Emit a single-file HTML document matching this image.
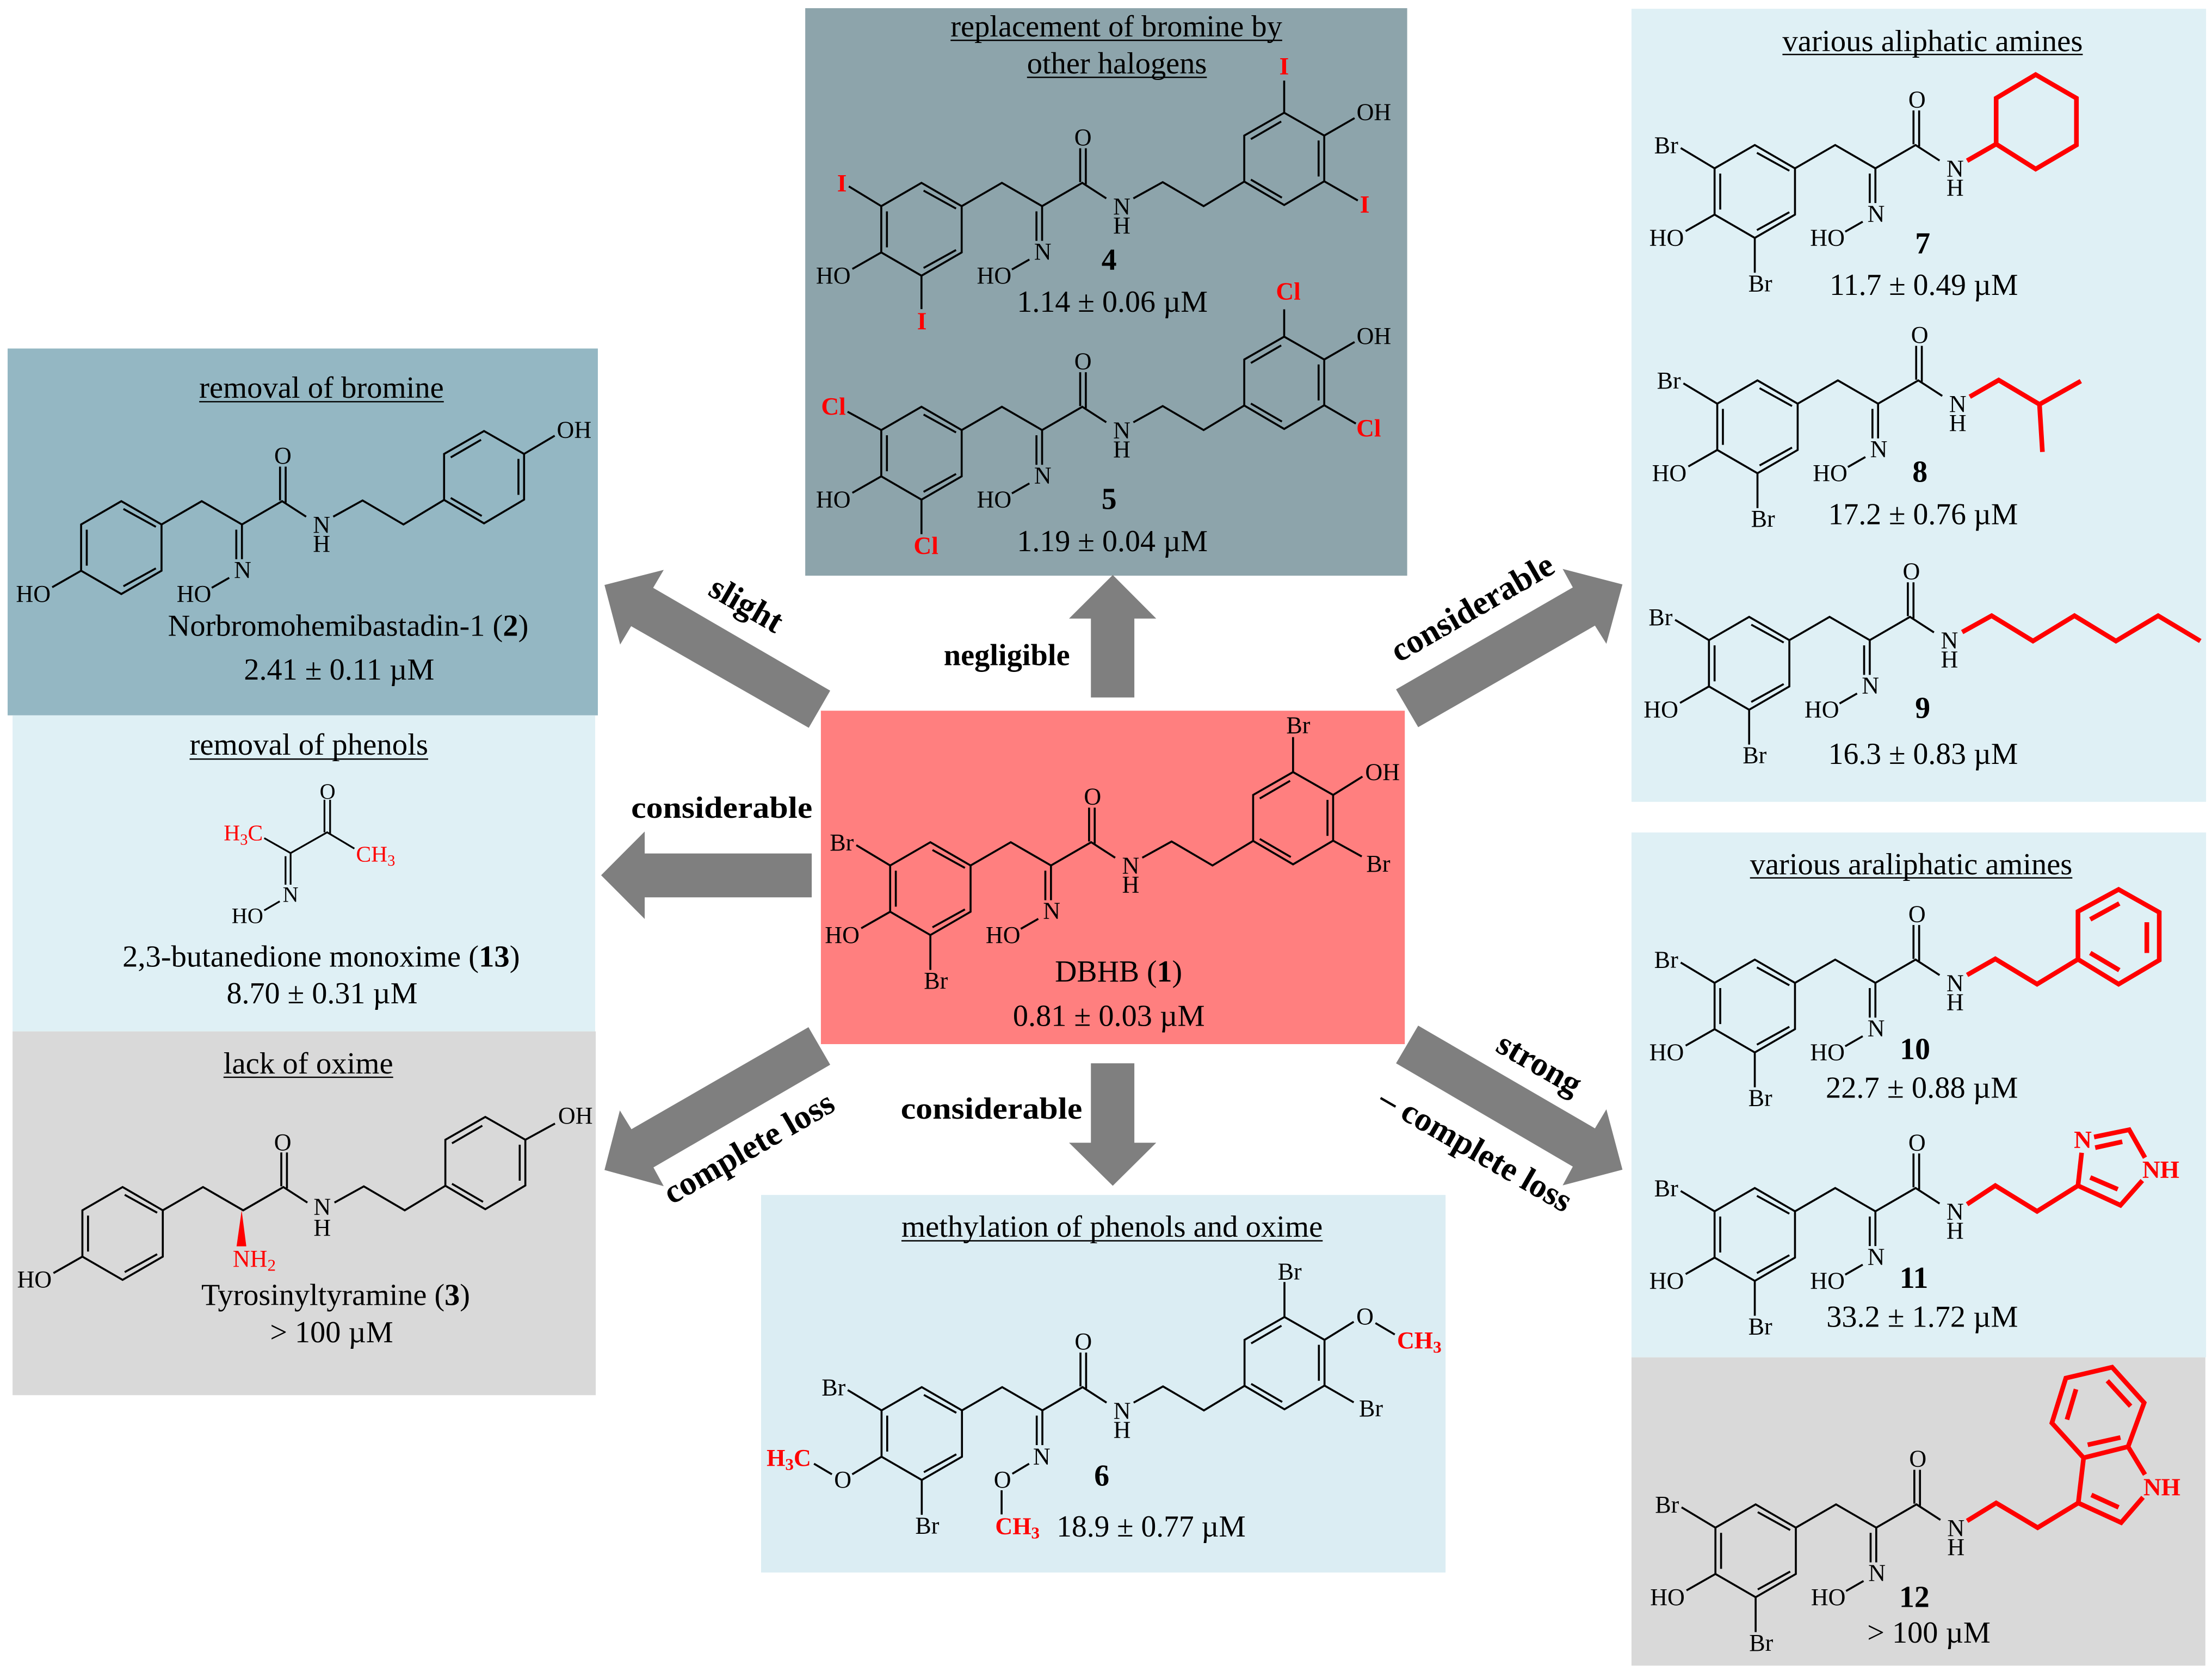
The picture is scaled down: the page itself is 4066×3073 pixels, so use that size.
<!DOCTYPE html>
<html lang="en"><head><meta charset="utf-8"><title>DBHB SAR diagram</title>
<style>
html,body{margin:0;padding:0;background:#fff}
svg{display:block;width:4066px;height:3073px}
text{font-family:"Liberation Serif",serif;fill:#000}
.a{font-size:17px;text-anchor:middle}
.ar{font-size:17.5px;text-anchor:middle;fill:#f00;font-weight:bold}
.l{font-size:21.5px}
.n{font-size:21.5px;font-weight:bold;text-anchor:middle}
.b{font-size:21.7px;font-weight:bold}
.c{font-size:24px;font-weight:bold;text-anchor:middle}
.u{stroke:#000;stroke-width:.95}
.red{fill:none;stroke:#f00;stroke-width:3.3;stroke-linejoin:miter}
.arw{fill:#7f7f7f}
</style></head><body>
<svg viewBox="0 0 1568 1185" preserveAspectRatio="none" xmlns="http://www.w3.org/2000/svg">
<defs>
<g id="ringL" fill="none" stroke="#000" stroke-width="1.4"><polygon points="0,0 28.5,-16.5 57,0 57,32.8 28.5,49.3 0,32.8"/><path d="M4,3.7V29.2M30,-11L53,1.7M30,43.8L53,31.1"/></g>
<g id="chainA" fill="none" stroke="#000" stroke-width="1.4"><polyline points="57,0 85.5,-16.5 114,0 142.5,-16.5 159.5,-5.5"/><path d="M141,-41V-17M145,-41V-15.5"/></g>
<g id="oxime" fill="none" stroke="#000" stroke-width="1.4"><path d="M114,0V24.6M110,3.7V24.6M105,37.8L92.6,44.9"/></g>
<g id="hoL" fill="none" stroke="#000" stroke-width="1.4"><path d="M0,32.8L-20.5,44.5"/></g>
<g id="brL" fill="none" stroke="#000" stroke-width="1.4"><path d="M0,0L-24,-14.4M28.5,49.3V74"/></g>
<g id="ringR" fill="none" stroke="#000" stroke-width="1.4"><polyline points="178.7,-5.5 199.5,-17 228.5,0 257.3,-17.4"/><polygon points="257.3,-17.4 257.3,-50 285.6,-66.2 314,-50 314,-17.6 285.6,-0.8"/><path d="M310,-46.5V-21M262,-47.5L283.5,-60M262,-18.8L284,-6"/></g>
</defs>

<!-- boxes -->
<rect x="5.4" y="247" width="418.4" height="260" fill="#94b7c3"/>
<rect x="8.9" y="507" width="413" height="224" fill="#dff0f5"/>
<rect x="8.9" y="731" width="413.4" height="257.8" fill="#d9d9d9"/>
<rect x="570.8" y="5.8" width="426.7" height="402.2" fill="#8da4ab"/>
<rect x="581.9" y="503.7" width="413.9" height="236.3" fill="#ff7f7f"/>
<rect x="539.5" y="846.9" width="485.2" height="267.6" fill="#dbedf3"/>
<rect x="1156.5" y="6.2" width="407.3" height="562.1" fill="#dff0f5"/>
<rect x="1156.5" y="590" width="407.3" height="372" fill="#dff0f5"/>
<rect x="1156.5" y="962" width="406.8" height="218.5" fill="#d9d9d9"/>

<!-- arrows -->
<polygon class="arw" points="428.5,414.6 470.5,403.9 463,416.6 588.5,489.5 573.3,515.8 447.4,443.8 439.6,456.8"/>
<polygon class="arw" points="426.1,620.3 457,589.3 457,604.9 575.4,604.9 575.4,636 457,636 457,651.3"/>
<polygon class="arw" points="573.1,728 588.5,754.6 463.2,827.4 470.5,840.7 428.5,829.2 439.4,787 447.6,800.3"/>
<polygon class="arw" points="989.6,488.6 1114.9,416.3 1107.7,403.2 1150.1,414.2 1138.7,456.3 1130.6,443.4 1005.3,515.4"/>
<polygon class="arw" points="1005.3,726.9 1130.6,799.7 1138.7,786.2 1150.1,829 1107.7,840.1 1114.9,826.8 989.6,753.6"/>
<polygon class="arw" points="788.8,407.5 757.8,438.4 773.3,438.4 773.3,494.3 804.1,494.3 804.1,438.4 819.6,438.4"/>
<polygon class="arw" points="773.3,753.6 804.1,753.6 804.1,809.9 819.6,809.9 788.8,840.4 757.8,809.9 773.3,809.9"/>

<!-- arrow labels -->
<text class="b" x="669" y="471.5" textLength="89.4" lengthAdjust="spacingAndGlyphs">negligible</text>
<text class="b" x="638.5" y="792.9" textLength="128.7" lengthAdjust="spacingAndGlyphs">considerable</text>
<text class="b" x="447.4" y="579.5" textLength="128.5" lengthAdjust="spacingAndGlyphs">considerable</text>
<text class="c" transform="translate(525.2,435.2) rotate(30)">slight</text>
<text class="c" transform="translate(1047.5,437.5) rotate(-30)">considerable</text>
<text class="c" transform="translate(534.7,820.2) rotate(-30)">complete loss</text>
<text class="c" transform="translate(1087.3,760.7) rotate(30)">strong</text>
<text class="c" transform="translate(1042.3,821.4) rotate(30)">– complete loss</text>

<!-- 1 DBHB -->
<g transform="translate(631,613.4)">
<use href="#ringL"/><use href="#chainA"/><use href="#oxime"/><use href="#hoL"/><use href="#brL"/><use href="#ringR"/>
<path d="M285.6,-66.2V-91M314,-50L334.8,-63M314,-17.6L334.3,-6.4" fill="none" stroke="#000" stroke-width="1.4"/>
<text class="a" x="143.5" y="-43.2">O</text><text class="a" x="114.5" y="37.8">N</text><text class="a" x="170.5" y="5.8">N</text><text class="a" x="170.5" y="19.3">H</text><text class="a" x="80" y="54.8">HO</text>
<text class="a" x="-34" y="54.8">HO</text><text class="a" x="-34.3" y="-10.7">Br</text><text class="a" x="32.4" y="87.2">Br</text>
<text class="a" x="349" y="-60.7">OH</text><text class="a" x="289.3" y="-93.7">Br</text><text class="a" x="346" y="4.3">Br</text>
</g>
<text class="l" x="747.8" y="695.7" textLength="90.2" lengthAdjust="spacingAndGlyphs">DBHB (<tspan font-weight="bold">1</tspan>)</text>
<text class="l" x="718" y="727" textLength="136" lengthAdjust="spacingAndGlyphs">0.81 ± 0.03 µM</text>

<!-- 2 -->
<text class="l" x="141.2" y="281.8" textLength="173.4" lengthAdjust="spacingAndGlyphs">removal of bromine</text>
<line class="u" x1="141.2" y1="284.7" x2="314.6" y2="284.7"/>
<g transform="translate(57.5,371.7)">
<use href="#ringL"/><use href="#chainA"/><use href="#oxime"/><use href="#hoL"/><use href="#ringR"/>
<path d="M314,-50L335.7,-62.9" fill="none" stroke="#000" stroke-width="1.4"/>
<text class="a" x="143" y="-43.2">O</text><text class="a" x="114.5" y="37.8">N</text><text class="a" x="170.5" y="5.8">N</text><text class="a" x="170.5" y="19.3">H</text><text class="a" x="80" y="54.8">HO</text>
<text class="a" x="-33.9" y="54.7">HO</text><text class="a" x="349.5" y="-61.4">OH</text>
</g>
<text class="l" x="119" y="450.6" textLength="255.6" lengthAdjust="spacingAndGlyphs">Norbromohemibastadin-1 (<tspan font-weight="bold">2</tspan>)</text>
<text class="l" x="172.9" y="481.6" textLength="135" lengthAdjust="spacingAndGlyphs">2.41 ± 0.11 µM</text>

<!-- 13 -->
<text class="l" x="134.4" y="534.9" textLength="169.1" lengthAdjust="spacingAndGlyphs">removal of phenols</text>
<line class="u" x1="134.4" y1="538" x2="303.5" y2="538"/>
<g fill="none" stroke="#000" stroke-width="1.25">
<path d="M187.3,594L206,604.6L231.9,589.9L251.2,601.4M230,566.8V589.9M234,566.8V591M206,604.6V627M202.4,606.8V627M198.3,638.8L187.3,645.2"/>
</g>
<text x="232.2" y="566" font-size="15.5" text-anchor="middle">O</text>
<text x="206" y="639.2" font-size="15.5" text-anchor="middle">N</text>
<text x="175.4" y="654.2" font-size="15.5" text-anchor="middle">HO</text>
<text x="158.6" y="595.6" font-size="16" style="fill:#f00">H<tspan dy="3" font-size="11" style="fill:#f00">3</tspan><tspan dy="-3" style="fill:#f00">C</tspan></text>
<text x="252.4" y="610.6" font-size="16" style="fill:#f00">CH<tspan dy="3" font-size="11" style="fill:#f00">3</tspan></text>
<text class="l" x="86.8" y="685.1" textLength="281.7" lengthAdjust="spacingAndGlyphs">2,3-butanedione monoxime (<tspan font-weight="bold">13</tspan>)</text>
<text class="l" x="160.6" y="711" textLength="135.4" lengthAdjust="spacingAndGlyphs">8.70 ± 0.31 µM</text>

<!-- 3 -->
<text class="l" x="158.4" y="760.9" textLength="120.3" lengthAdjust="spacingAndGlyphs">lack of oxime</text>
<line class="u" x1="158.4" y1="763.5" x2="278.7" y2="763.5"/>
<g transform="translate(58.4,857.8)">
<use href="#ringL"/><use href="#chainA"/><use href="#hoL"/><use href="#ringR"/>
<path d="M314,-50L335,-61.5" fill="none" stroke="#000" stroke-width="1.4"/>
<polygon points="112.9,0 109.3,25.5 116.2,25.5" fill="#f00"/>
<text class="a" x="142" y="-42.7">O</text><text class="a" x="170" y="3">N</text><text class="a" x="170" y="18">H</text>
<text class="a" x="-34" y="54.5">HO</text><text class="a" x="349.5" y="-61.5">OH</text>
<text x="106.6" y="39.9" font-size="17" style="fill:#f00">NH<tspan dy="3" font-size="12" style="fill:#f00">2</tspan></text>
</g>
<text class="l" x="142.7" y="924.9" textLength="190.5" lengthAdjust="spacingAndGlyphs">Tyrosinyltyramine (<tspan font-weight="bold">3</tspan>)</text>
<text class="l" x="191.4" y="951.4" textLength="87.3" lengthAdjust="spacingAndGlyphs">&gt; 100 µM</text>

<!-- 4 -->
<text class="l" x="673.8" y="25.8" textLength="235.1" lengthAdjust="spacingAndGlyphs">replacement of bromine by</text>
<line class="u" x1="673.8" y1="28.6" x2="908.9" y2="28.6"/>
<text class="l" x="728" y="52" textLength="127.5" lengthAdjust="spacingAndGlyphs">other halogens</text>
<line class="u" x1="728" y1="54.8" x2="855.5" y2="54.8"/>
<g transform="translate(624.7,146.1)">
<use href="#ringL"/><use href="#chainA"/><use href="#oxime"/><use href="#hoL"/><use href="#ringR"/>
<path d="M0,0L-23,-14M28.5,49.3V73M285.6,-66.2V-89M314,-50L335.5,-62.4M314,-17.6L337.8,-4" fill="none" stroke="#000" stroke-width="1.4"/>
<text class="a" x="143" y="-43.2">O</text><text class="a" x="114.5" y="37.8">N</text><text class="a" x="170.5" y="5.8">N</text><text class="a" x="170.5" y="19.3">H</text><text class="a" x="80" y="54.8">HO</text>
<text class="a" x="-34" y="54.8">HO</text><text class="a" x="349.2" y="-61.1">OH</text>
<text class="ar" x="-27.9" y="-10.4">I</text><text class="ar" x="28.8" y="87.4">I</text><text class="ar" x="285.6" y="-93.3">I</text><text class="ar" x="342.7" y="4.7">I</text>
</g>
<text class="n" x="786.2" y="191.3">4</text>
<text class="l" x="720.9" y="221" textLength="135.2" lengthAdjust="spacingAndGlyphs">1.14 ± 0.06 µM</text>

<!-- 5 -->
<g transform="translate(624.7,304.8)">
<use href="#ringL"/><use href="#chainA"/><use href="#oxime"/><use href="#hoL"/><use href="#ringR"/>
<path d="M0,0L-23.9,-13M28.5,49.3V73.8M285.6,-66.2V-85.6M314,-50L335.5,-62.4M314,-17.6L336.4,-4.6" fill="none" stroke="#000" stroke-width="1.4"/>
<text class="a" x="143" y="-43.2">O</text><text class="a" x="114.5" y="37.8">N</text><text class="a" x="170.5" y="5.8">N</text><text class="a" x="170.5" y="19.3">H</text><text class="a" x="80" y="54.8">HO</text>
<text class="a" x="-34" y="54.8">HO</text><text class="a" x="349.2" y="-61.1">OH</text>
<text class="ar" x="-33.9" y="-11">Cl</text><text class="ar" x="31.7" y="87.8">Cl</text><text class="ar" x="288.5" y="-92.6">Cl</text><text class="ar" x="345.5" y="4.4">Cl</text>
</g>
<text class="n" x="786.2" y="360.8">5</text>
<text class="l" x="720.9" y="390.6" textLength="135.2" lengthAdjust="spacingAndGlyphs">1.19 ± 0.04 µM</text>

<!-- 6 -->
<text class="l" x="639" y="876.6" textLength="298.6" lengthAdjust="spacingAndGlyphs">methylation of phenols and oxime</text>
<line class="u" x1="639" y1="879.4" x2="937.6" y2="879.4"/>
<g transform="translate(624.9,999.6)">
<use href="#ringL"/><use href="#chainA"/><use href="#brL"/><use href="#ringR"/>
<path d="M114,0V24.6M110,3.7V24.6M104.6,37.8L92.7,44.9M85.1,56.6V73.7M0,32.8L-20.8,45.3M-35.2,45.3L-47.9,37.8M285.6,-66.2V-91M314,-50L334.7,-62.8M350.1,-61.9L363.8,-53.8M314,-17.6L334.7,-5.7" fill="none" stroke="#000" stroke-width="1.4"/>
<text class="a" x="143" y="-43.2">O</text><text class="a" x="113.5" y="38.2">N</text><text class="a" x="170.5" y="5.8">N</text><text class="a" x="170.5" y="19.3">H</text>
<text class="a" x="85.7" y="54.7">O</text><text class="a" x="-27.5" y="54.7">O</text><text class="a" x="342.7" y="-61.1">O</text>
<text class="a" x="-34" y="-10.7">Br</text><text class="a" x="32.4" y="87.2">Br</text><text class="a" x="289.3" y="-92.9">Br</text><text class="a" x="346.9" y="4.1">Br</text>
</g>
<text x="543.4" y="1038.8" font-size="17" font-weight="bold" style="fill:#f00">H<tspan dy="3" font-size="12" style="fill:#f00">3</tspan><tspan dy="-3" style="fill:#f00">C</tspan></text>
<text x="705.5" y="1087.3" font-size="17" font-weight="bold" style="fill:#f00">CH<tspan dy="3" font-size="12" style="fill:#f00">3</tspan></text>
<text x="990.3" y="955.6" font-size="17" font-weight="bold" style="fill:#f00">CH<tspan dy="3" font-size="12" style="fill:#f00">3</tspan></text>
<text class="n" x="781" y="1053">6</text>
<text class="l" x="749" y="1089" textLength="134" lengthAdjust="spacingAndGlyphs">18.9 ± 0.77 µM</text>

<!-- 7 -->
<text class="l" x="1263.5" y="36.2" textLength="212.9" lengthAdjust="spacingAndGlyphs">various aliphatic amines</text>
<line class="u" x1="1263.5" y1="38.6" x2="1476.4" y2="38.6"/>
<g transform="translate(1215.4,119.3)">
<use href="#ringL"/><use href="#chainA"/><use href="#oxime"/><use href="#hoL"/><use href="#brL"/>
<text class="a" x="143.5" y="-43.2">O</text><text class="a" x="114.5" y="37.8">N</text><text class="a" x="170.5" y="5.8">N</text><text class="a" x="170.5" y="19.3">H</text><text class="a" x="80" y="54.8">HO</text>
<text class="a" x="-34" y="54.8">HO</text><text class="a" x="-34.3" y="-10.7">Br</text><text class="a" x="32.4" y="87.2">Br</text>
</g>
<path class="red" d="M1394.4,113.9L1415,102.1M1415,102.1V69.6L1443,52.9L1471.9,69.6V102.8L1443,119.8Z"/>
<text class="n" x="1362.9" y="179.6">7</text>
<text class="l" x="1296.9" y="209.1" textLength="133.6" lengthAdjust="spacingAndGlyphs">11.7 ± 0.49 µM</text>

<!-- 8 -->
<g transform="translate(1217.3,286.1)">
<use href="#ringL"/><use href="#chainA"/><use href="#oxime"/><use href="#hoL"/><use href="#brL"/>
<text class="a" x="143.5" y="-43.2">O</text><text class="a" x="114.5" y="37.8">N</text><text class="a" x="170.5" y="5.8">N</text><text class="a" x="170.5" y="19.3">H</text><text class="a" x="80" y="54.8">HO</text>
<text class="a" x="-34" y="54.8">HO</text><text class="a" x="-34.3" y="-10.7">Br</text><text class="a" x="32.4" y="87.2">Br</text>
</g>
<path class="red" d="M1396.3,281.2L1416.8,269.4L1445.7,286.6L1475,270.1M1445.7,286.6L1447.8,320.3"/>
<text class="n" x="1361" y="341.4">8</text>
<text class="l" x="1296" y="371.5" textLength="134.5" lengthAdjust="spacingAndGlyphs">17.2 ± 0.76 µM</text>

<!-- 9 -->
<g transform="translate(1211.4,453.7)">
<use href="#ringL"/><use href="#chainA"/><use href="#oxime"/><use href="#hoL"/><use href="#brL"/>
<text class="a" x="143.5" y="-43.2">O</text><text class="a" x="114.5" y="37.8">N</text><text class="a" x="170.5" y="5.8">N</text><text class="a" x="170.5" y="19.3">H</text><text class="a" x="80" y="54.8">HO</text>
<text class="a" x="-34" y="54.8">HO</text><text class="a" x="-34.3" y="-10.7">Br</text><text class="a" x="32.4" y="87.2">Br</text>
</g>
<polyline class="red" points="1390.9,448 1411.8,436.4 1441.1,454.3 1470.5,436.4 1499.9,454.3 1529.8,436.4 1559.7,454.3"/>
<text class="n" x="1362.9" y="508.8">9</text>
<text class="l" x="1296" y="541.4" textLength="134.5" lengthAdjust="spacingAndGlyphs">16.3 ± 0.83 µM</text>

<!-- 10 -->
<text class="l" x="1240.5" y="619.7" textLength="228.5" lengthAdjust="spacingAndGlyphs">various araliphatic amines</text>
<line class="u" x1="1240.5" y1="622.2" x2="1469" y2="622.2"/>
<g transform="translate(1215.4,696.6)">
<use href="#ringL"/><use href="#chainA"/><use href="#oxime"/><use href="#hoL"/><use href="#brL"/>
<text class="a" x="143.5" y="-43.2">O</text><text class="a" x="114.5" y="37.8">N</text><text class="a" x="170.5" y="5.8">N</text><text class="a" x="170.5" y="19.3">H</text><text class="a" x="80" y="54.8">HO</text>
<text class="a" x="-34" y="54.8">HO</text><text class="a" x="-34.3" y="-10.7">Br</text><text class="a" x="32.4" y="87.2">Br</text>
</g>
<path class="red" d="M1394.4,691L1414.4,679.6L1444,697.5L1473,679.9M1473,679.9V646L1501.8,630.4L1530.6,646.6V680.5L1501.8,697.5ZM1481.7,651.6L1502.3,640.3M1521.8,653.6V675.4M1481.7,675.4L1502.3,687.6"/>
<text class="n" x="1357.5" y="750.6">10</text>
<text class="l" x="1294.2" y="778" textLength="136.3" lengthAdjust="spacingAndGlyphs">22.7 ± 0.88 µM</text>

<!-- 11 -->
<g transform="translate(1215.4,858.5)">
<use href="#ringL"/><use href="#chainA"/><use href="#oxime"/><use href="#hoL"/><use href="#brL"/>
<text class="a" x="143.5" y="-43.2">O</text><text class="a" x="114.5" y="37.8">N</text><text class="a" x="170.5" y="5.8">N</text><text class="a" x="170.5" y="19.3">H</text><text class="a" x="80" y="54.8">HO</text>
<text class="a" x="-34" y="54.8">HO</text><text class="a" x="-34.3" y="-10.7">Br</text><text class="a" x="32.4" y="87.2">Br</text>
</g>
<path class="red" d="M1394.4,853.5L1414.4,840.3L1444,858.5L1473,840.3L1475.6,817M1473,840.3L1503.1,854.2L1518.6,836.7M1481.7,834.5L1501.2,842.9M1484.4,805.8L1509.3,800.7L1520.5,820.5M1485.2,813.4L1504.4,809.2"/>
<text class="ar" x="1476.4" y="813.6">N</text>
<text class="ar" x="1531.7" y="834.8">NH</text>
<text class="n" x="1356.7" y="912.8">11</text>
<text class="l" x="1294.7" y="940.3" textLength="135.8" lengthAdjust="spacingAndGlyphs">33.2 ± 1.72 µM</text>

<!-- 12 -->
<g transform="translate(1216,1082.7)">
<use href="#ringL"/><use href="#chainA"/><use href="#oxime"/><use href="#hoL"/><use href="#brL"/>
<text class="a" x="143.5" y="-43.2">O</text><text class="a" x="114.5" y="37.8">N</text><text class="a" x="170.5" y="5.8">N</text><text class="a" x="170.5" y="19.3">H</text><text class="a" x="80" y="54.8">HO</text>
<text class="a" x="-34" y="54.8">HO</text><text class="a" x="-34.3" y="-10.7">Br</text><text class="a" x="32.4" y="87.2">Br</text>
</g>
<path class="red" d="M1394.4,1077.9L1415,1065.2L1444.4,1082.7L1473.2,1065.2L1477,1033.2L1508.5,1025.3L1520.5,1045.1M1473.2,1065.2L1503.6,1079.1L1519.1,1061.2M1482.5,1059.5L1501.8,1068.3M1477,1033.2L1454.5,1008.5L1464.4,976.7L1497.2,969L1519.9,994.2L1508.5,1025.3M1465.2,1006.1L1471.6,984.6M1493.8,978.6L1510.3,996.6M1479.9,1024L1503.1,1018.8"/>
<text class="ar" x="1532.5" y="1059.8">NH</text>
<text class="n" x="1357" y="1138.9">12</text>
<text class="l" x="1323.6" y="1164.1" textLength="87.4" lengthAdjust="spacingAndGlyphs">&gt; 100 µM</text>
</svg>
</body></html>
